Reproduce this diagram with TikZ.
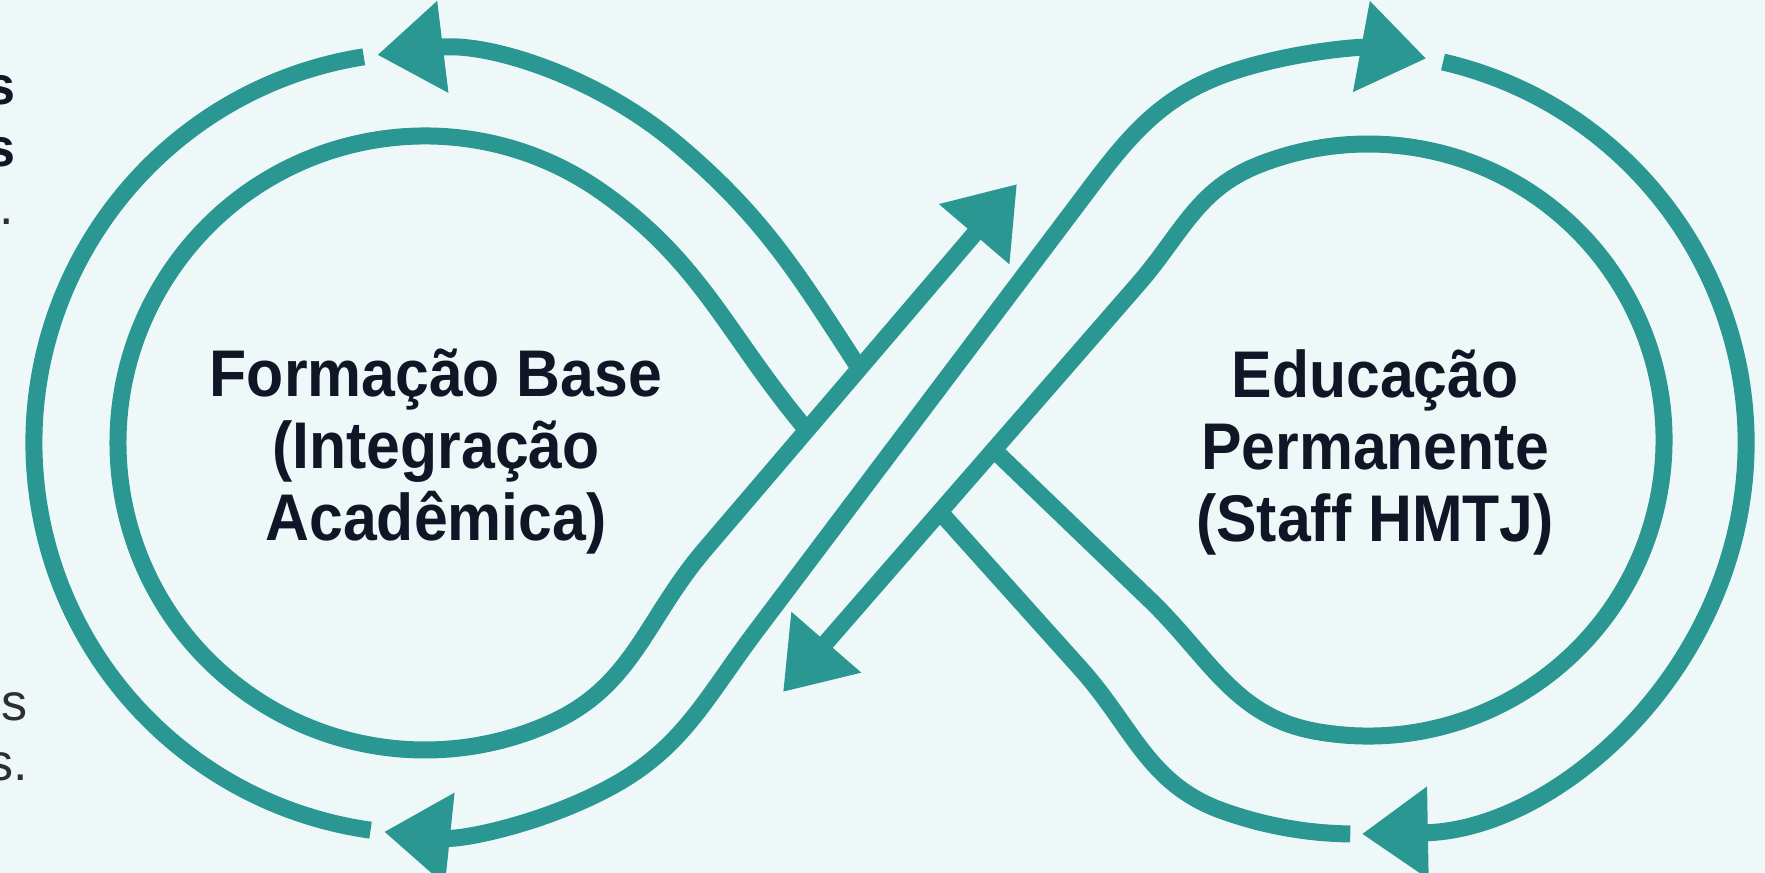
\documentclass[tikz,border=0pt]{standalone}
\usepackage{fontspec}
\setmainfont{Liberation Sans}
\newfontfamily\lblfont{Liberation Sans}[FakeStretch=0.92]
\usetikzlibrary{arrows.meta}
\definecolor{loopteal}{RGB}{42,151,146}
\definecolor{bgcyan}{RGB}{238,248,249}
\definecolor{inkblue}{RGB}{16,22,38}
\definecolor{fraggray}{RGB}{45,45,50}
\begin{document}
\begin{tikzpicture}
	[x=1pt,y=1pt,yscale=-1,
	track/.style={draw=loopteal,line width=17pt},
	onehead/.style={-{Triangle[length=66pt,width=88pt]}},
	twoheads/.style={{Triangle[length=66pt,width=88pt]}-{Triangle[length=66pt,width=88pt]}},
	lbl/.style={align=center,text=inkblue,font=\lblfont\fontsize{66}{72}\selectfont\bfseries},
	frag/.style={anchor=base east,inner sep=0pt,text=fraggray,font=\fontsize{52}{56}\selectfont},
	fragb/.style={frag,text=inkblue,font=\fontsize{54}{56}\selectfont\bfseries}]

	\fill[bgcyan] (0,0) rectangle (1765,873);
	\useasboundingbox (0,0) rectangle (1765,873);

	% junctions on the diagonals
	\coordinate (j1) at (859,368);
	\coordinate (j2) at (806,429);
	\coordinate (a1) at (703.1,551.6);
	\coordinate (a2) at (755.5,631.8);
	\coordinate (b2) at (1074.6,208.3);
	\coordinate (j3) at (940,512);
	\coordinate (j4) at (994,450);
	\coordinate (b3) at (1138.3,283.9);
	\coordinate (up) at (1017,184);
	\coordinate (dn) at (783,692);

	% left loop
	\draw[track] (363.8,56.8) arc[start angle=261,end angle=98,radius=391];
	\draw[track,onehead] (j1) to[out=237,in=40] (676.3,143.5)
		arc[start angle=310,end angle=263,radius=391];
	\draw[track,onehead] (j2) to[out=230,in=35] (601.1,191.5)
		arc[start angle=305,end angle=66,radius=307]
		to[out=-24,in=130] (a1) -- (up);

	% middle diagonal
	\draw[track,twoheads] (384.1,831.8) arc[start angle=96,end angle=62,radius=391]
		to[out=-28,in=127] (a2) -- (b2) to[out=-53,in=162] (1234.2,71.1)
		arc[start angle=252,end angle=280.5,radius=391];

	% right loop
	\draw[track,onehead] (1443,62) arc[start angle=283,end angle=449,radius=391];
	\draw[track] (j3) -- (1080,668) to[out=48,in=200] (1221.3,810.4)
		arc[start angle=110,end angle=90.7,radius=391];
	\draw[track,onehead] (j4) -- (1150,600) to[out=44,in=190] (1316.6,731.5)
		arc[start angle=100,end angle=-112,radius=296]
		to[out=158,in=-49] (b3) -- (dn);

	\node[lbl] (base) at (436,452) {Formação Base\\(Integração\\Acadêmica)};
	\node[lbl] (perm) at (1375,452) {Educação\\Permanente\\(Staff HMTJ)};

	\node[fragb] (s1) at (16,104) {s};
	\node[fragb] (s2) at (16,166) {s};
	\node[frag] (s3) at (14,224) {).};
	\node[frag] (s4) at (28,720) {os};
	\node[frag] (s5) at (28,780) {s.};
\end{tikzpicture}
\end{document}
